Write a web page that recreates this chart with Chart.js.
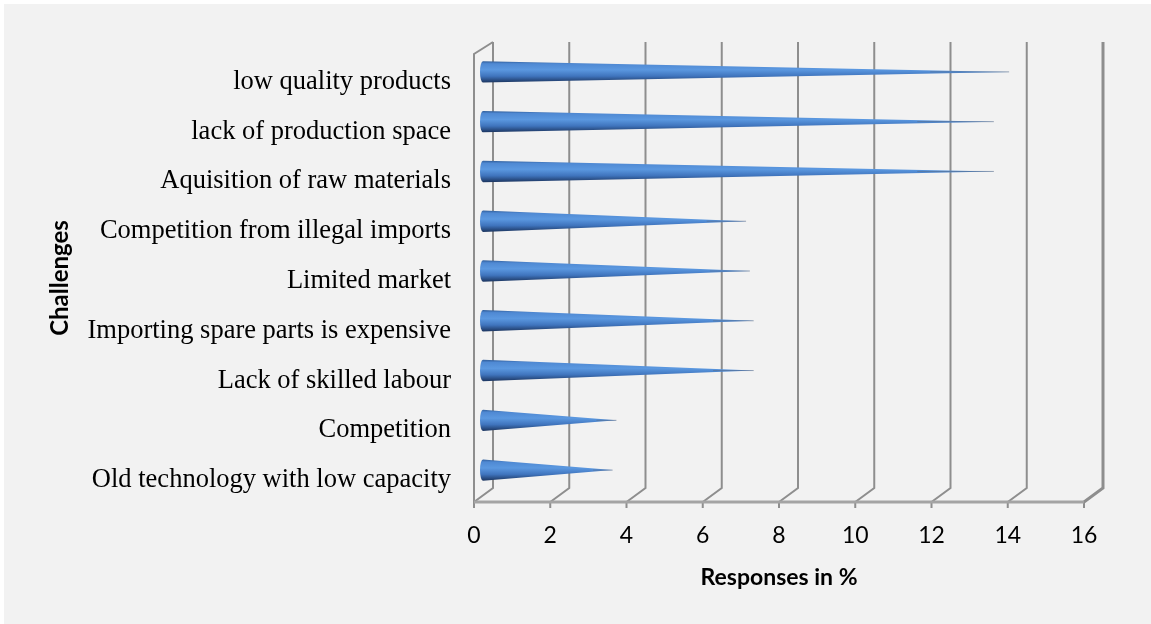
<!DOCTYPE html>
<html>
<head>
<meta charset="utf-8">
<title>Challenges</title>
<script src="https://cdn.jsdelivr.net/npm/chart.js@4.4.1/dist/chart.umd.min.js"></script>
<style>
  html, body { margin: 0; padding: 0; background: #fff; }
</style>
</head>
<body>
<canvas id="myChart" width="1151" height="624"></canvas>
<script>
const challenges = [
  'low quality products',
  'lack of production space',
  'Aquisition of raw materials',
  'Competition from illegal imports',
  'Limited market',
  'Importing spare parts is expensive',
  'Lack of skilled labour',
  'Competition',
  'Old technology with low capacity'
];
const responses = [13.8, 13.4, 13.4, 6.9, 7.0, 7.1, 7.1, 3.5, 3.4];
const xMin = 0;
const xMax = 16;
const xStep = 2;

// 3D look: back wall is shifted right/up from the front plane, cones sit halfway
const DEPTH_X = 19, DEPTH_Y = 12;
const CONE_DX = 9, CONE_DY = 7;

const backdrop = {
  id: 'backdrop',
  beforeDraw(chart) {
    const ctx = chart.ctx;
    ctx.save();
    ctx.fillStyle = '#ffffff';
    ctx.fillRect(0, 0, chart.width, chart.height);
    ctx.fillStyle = '#f2f2f2';
    ctx.fillRect(4, 4, chart.width - 4, chart.height - 4);
    ctx.restore();
  }
};

const walls = {
  id: 'walls',
  beforeDatasetsDraw(chart) {
    const ctx = chart.ctx;
    const a = chart.chartArea;
    const x = chart.scales.x;
    const topBack = a.top - DEPTH_Y;
    const bottomBack = a.bottom - DEPTH_Y - 2;
    ctx.save();
    ctx.strokeStyle = '#8e8e8e';
    x.ticks.forEach(function (t, i) {
      const fx = x.getPixelForValue(t.value);
      const bx = fx + DEPTH_X;
      ctx.lineWidth = i === x.ticks.length - 1 ? 3 : 2;
      ctx.beginPath();
      ctx.moveTo(bx, topBack);
      ctx.lineTo(bx, bottomBack);
      ctx.lineTo(fx, a.bottom);
      ctx.stroke();
      ctx.lineWidth = 2;
      ctx.beginPath();
      ctx.moveTo(fx, a.bottom);
      ctx.lineTo(fx, a.bottom + 6);
      ctx.stroke();
    });
    // left wall, front edge and top
    ctx.lineWidth = 2;
    ctx.beginPath();
    ctx.moveTo(a.left, a.bottom);
    ctx.lineTo(a.left, a.top);
    ctx.lineTo(a.left + DEPTH_X, topBack);
    ctx.stroke();
    // floor front edge
    ctx.strokeStyle = '#a4a4a4';
    ctx.lineWidth = 3;
    ctx.beginPath();
    ctx.moveTo(a.left, a.bottom);
    ctx.lineTo(a.right, a.bottom);
    ctx.stroke();
    ctx.restore();
  }
};

const cones = {
  id: 'cones',
  afterDatasetsDraw(chart) {
    const ctx = chart.ctx;
    const meta = chart.getDatasetMeta(0);
    ctx.save();
    meta.data.forEach(function (bar) {
      const p = bar.getProps(['x', 'y', 'base', 'height'], true);
      const bx = p.base + CONE_DX;
      const tip = p.x + CONE_DX;
      const cy = p.y - CONE_DY;
      const r = p.height / 2;
      const g = ctx.createLinearGradient(0, cy - r, 0, cy + r);
      g.addColorStop(0, '#2f5d9a');
      g.addColorStop(0.12, '#4f89d3');
      g.addColorStop(0.4, '#5b98e0');
      g.addColorStop(0.7, '#3f74bd');
      g.addColorStop(1, '#1c355f');
      ctx.fillStyle = g;
      ctx.beginPath();
      ctx.moveTo(bx, cy - r);
      ctx.lineTo(tip, cy);
      ctx.lineTo(bx, cy + r);
      ctx.ellipse(bx, cy, 3, r, 0, Math.PI / 2, Math.PI * 1.5);
      ctx.closePath();
      ctx.fill();
      // faint tip line
      ctx.strokeStyle = 'rgba(90,110,140,0.6)';
      ctx.lineWidth = 1;
      ctx.beginPath();
      ctx.moveTo(bx + (tip - bx) * 0.85, cy);
      ctx.lineTo(tip, cy);
      ctx.stroke();
    });
    ctx.restore();
  }
};

const dataSource = {
  labels: challenges,
  datasets: [{
    label: 'Responses in %',
    data: responses,
    backgroundColor: 'rgba(0,0,0,0)',
    borderWidth: 0,
    barPercentage: 0.43,
    categoryPercentage: 1
  }]
};

function createChart() {
  const ctx = document.getElementById('myChart').getContext('2d');
  new Chart(ctx, {
    type: 'bar',
    data: dataSource,
    plugins: [backdrop, walls, cones],
    options: {
      indexAxis: 'y',
      responsive: false,
      animation: false,
      events: [],
      layout: { padding: { top: 54, right: 67, left: 0, bottom: 0 } },
      plugins: { legend: { display: false }, tooltip: { enabled: false } },
      scales: {
        x: {
          type: 'linear',
          min: xMin,
          max: xMax,
          ticks: { stepSize: xStep, padding: 12, color: '#000', font: { family: 'Lato', size: 23 } },
          grid: { display: false },
          border: { display: false },
          title: {
            display: true,
            text: 'Responses in %',
            color: '#000',
            font: { family: 'Lato', size: 23, weight: 'bold' },
            padding: { top: 0, bottom: 33 }
          },
          afterFit: function (s) { s.height = 122; }
        },
        y: {
          type: 'category',
          ticks: { padding: 15, labelOffset: 3, color: '#000', font: { family: 'Liberation Serif', size: 26.5 } },
          grid: { display: false },
          border: { display: false },
          title: {
            display: true,
            text: 'Challenges',
            color: '#000',
            font: { family: 'Lato', size: 24, weight: 'bold' },
            padding: { top: 46, bottom: 0 }
          },
          afterFit: function (s) { s.width = 474; }
        }
      }
    }
  });
}

createChart();
</script>
</body>
</html>
